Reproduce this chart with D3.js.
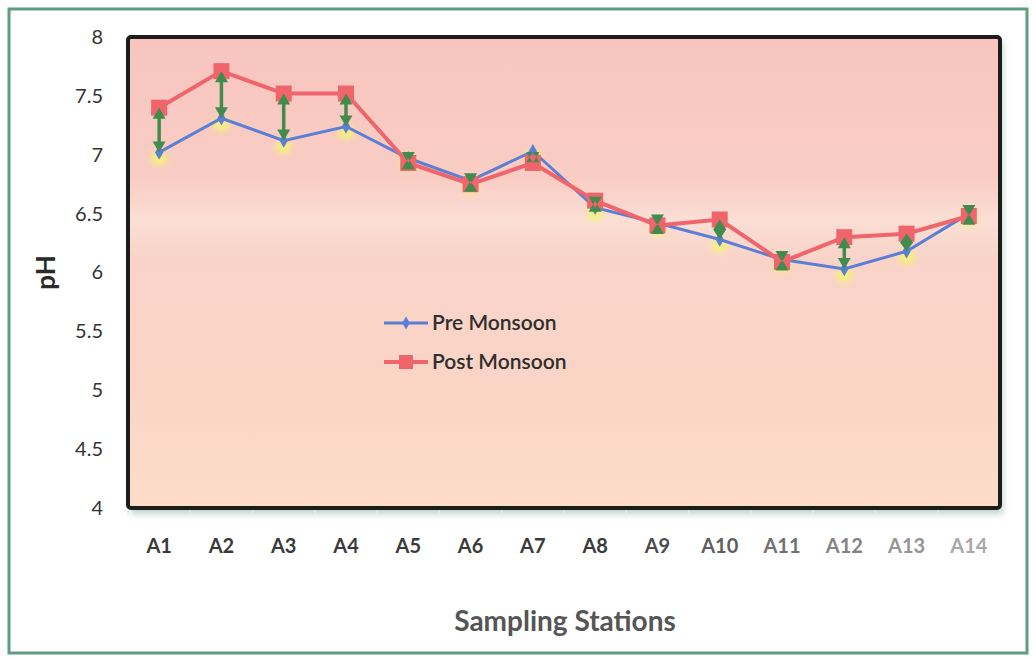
<!DOCTYPE html>
<html>
<head>
<meta charset="utf-8">
<script src="https://cdn.jsdelivr.net/npm/d3@7/dist/d3.min.js"></script>
<style>
  html, body { margin: 0; padding: 0; background: #fff; }
  svg { display: block; font-family: Lato, "Open Sans", sans-serif; }
</style>
</head>
<body>
<div id="chart"></div>
<script>
const stations = ["A1", "A2", "A3", "A4", "A5", "A6", "A7", "A8", "A9", "A10", "A11", "A12", "A13", "A14"];
const preMonsoon = [7.02, 7.31, 7.12, 7.24, 6.97, 6.78, 7.03, 6.55, 6.42, 6.28, 6.11, 6.03, 6.18, 6.50];
const postMonsoon = [7.40, 7.71, 7.52, 7.52, 6.93, 6.75, 6.93, 6.61, 6.40, 6.45, 6.09, 6.30, 6.33, 6.48];
const yTicks = [4, 4.5, 5, 5.5, 6, 6.5, 7, 7.5, 8];

const palette = {
  ink: "#333333",
  pre: "#5b7fd4",
  post: "#f0646c",
  arrow: "#3f8c4c",
  glow: "#f4f27a",
  frame: "#5e9e7c"
};

const width = 1036;
const height = 660;
const plot = { left: 128, right: 1000, top: 37, bottom: 508 };

const svg = d3.select("#chart").append("svg")
  .attr("width", width)
  .attr("height", height);

const defs = svg.append("defs");

const bg = defs.append("linearGradient")
  .attr("id", "plot-bg")
  .attr("x1", 0).attr("y1", 0).attr("x2", 0).attr("y2", 1);
[[0, "#f7c5bd"], [0.3, "#f9cdc4"], [0.39, "#fbded5"], [0.47, "#f9d3c8"], [0.75, "#fad5c6"], [1, "#fcdcc8"]]
  .forEach(([o, c]) => bg.append("stop").attr("offset", o).attr("stop-color", c));

defs.append("filter").attr("id", "blur")
  .attr("x", "-50%").attr("y", "-50%").attr("width", "200%").attr("height", "200%")
  .append("feGaussianBlur").attr("stdDeviation", 3);

defs.append("filter").attr("id", "shadow")
  .attr("x", "-5%").attr("y", "-5%").attr("width", "110%").attr("height", "110%")
  .append("feGaussianBlur").attr("stdDeviation", 3);

// outer frame
svg.append("rect")
  .attr("x", 9).attr("y", 9)
  .attr("width", width - 18).attr("height", height - 16)
  .attr("fill", "#fff")
  .attr("stroke", palette.frame)
  .attr("stroke-width", 3);

const x = d3.scaleBand()
  .domain(stations)
  .range([plot.left, plot.right]);

const y = d3.scaleLinear()
  .domain([4, 8])
  .range([plot.bottom, plot.top]);

// plot area shadow + fill
svg.append("rect")
  .attr("x", plot.left + 3).attr("y", plot.top + 4)
  .attr("width", plot.right - plot.left).attr("height", plot.bottom - plot.top + 2)
  .attr("fill", "#8fb8a8")
  .attr("opacity", 0.6)
  .attr("filter", "url(#shadow)");

svg.append("rect")
  .attr("x", plot.left).attr("y", plot.top)
  .attr("width", plot.right - plot.left).attr("height", plot.bottom - plot.top)
  .attr("rx", 3)
  .attr("fill", "url(#plot-bg)")
  .attr("stroke", "#1c1c1c")
  .attr("stroke-width", 4);

// y axis labels
const yAxis = svg.append("g")
  .attr("transform", `translate(${plot.left - 22},0)`)
  .call(d3.axisLeft(y).tickValues(yTicks).tickSize(0).tickFormat(d3.format("")));
yAxis.select(".domain").remove();
yAxis.selectAll("text")
  .attr("fill", palette.ink)
  .attr("font-size", 20)
  .attr("font-family", "Lato, 'Open Sans', sans-serif");

// x axis boundary ticks
svg.append("g")
  .selectAll("line")
  .data(stations.map((s) => x(s)).concat([plot.right]))
  .join("line")
  .attr("x1", (d) => d).attr("x2", (d) => d)
  .attr("y1", plot.bottom + 2).attr("y2", plot.bottom + 7)
  .attr("stroke", "#e8e8e8")
  .attr("stroke-width", 1.5);

const labelColor = d3.scaleLinear().domain([7, 13]).range(["#3a3a3a", "#a8a8a8"]).clamp(true);
const xAxis = svg.append("g")
  .attr("transform", `translate(0,${plot.bottom + 28})`)
  .call(d3.axisBottom(x).tickSize(0));
xAxis.select(".domain").remove();
xAxis.selectAll("text")
  .attr("fill", (d, i) => labelColor(i))
  .attr("font-size", 20)
  .attr("font-weight", 700)
  .attr("font-family", "Lato, 'Open Sans', sans-serif");

// axis titles
svg.append("text")
  .attr("transform", `translate(55,${(plot.top + plot.bottom) / 2}) rotate(-90)`)
  .attr("text-anchor", "middle")
  .attr("fill", "#2a2a2a")
  .attr("font-size", 26)
  .attr("font-weight", 700)
  .text("pH");

svg.append("text")
  .attr("x", 565)
  .attr("y", 631)
  .attr("text-anchor", "middle")
  .attr("fill", "#555")
  .attr("font-size", 28)
  .attr("font-weight", 700)
  .text("Sampling Stations");

const cx = (i) => x(stations[i]) + x.bandwidth() / 2;

// yellow glow beneath pre points
svg.append("g")
  .selectAll("ellipse")
  .data(preMonsoon)
  .join("ellipse")
  .attr("cx", (d, i) => cx(i))
  .attr("cy", (d) => y(d) + 6)
  .attr("rx", 8)
  .attr("ry", 7)
  .attr("fill", palette.glow)
  .attr("filter", "url(#blur)");

const line = d3.line()
  .x((d, i) => cx(i))
  .y((d) => y(d));

svg.append("path")
  .datum(preMonsoon)
  .attr("d", line)
  .attr("fill", "none")
  .attr("stroke", palette.pre)
  .attr("stroke-width", 3);

svg.append("path")
  .datum(postMonsoon)
  .attr("d", line)
  .attr("fill", "none")
  .attr("stroke", palette.post)
  .attr("stroke-width", 4);

svg.append("g")
  .selectAll("path")
  .data(preMonsoon)
  .join("path")
  .attr("transform", (d, i) => `translate(${cx(i)},${y(d)})`)
  .attr("d", d3.symbol(d3.symbolDiamond, 60))
  .attr("fill", palette.pre);

svg.append("g")
  .selectAll("rect")
  .data(postMonsoon)
  .join("rect")
  .attr("x", (d, i) => cx(i) - 8)
  .attr("y", (d) => y(d) - 8)
  .attr("width", 16)
  .attr("height", 16)
  .attr("fill", palette.post);

// double-headed change arrows
function arrowPath(i) {
  const a = y(preMonsoon[i]);
  const b = y(postMonsoon[i]);
  const top = Math.min(a, b);
  const bot = Math.max(a, b);
  const x0 = cx(i);
  const h = bot - top > 14 ? Math.min(11, (bot - top) / 2) : 11;
  const w = 6.5;
  return `M${x0 - w},${top + h}L${x0},${top}L${x0 + w},${top + h}Z` +
    `M${x0 - w},${bot - h}L${x0},${bot}L${x0 + w},${bot - h}Z`;
}

const arrows = svg.append("g");
stations.forEach((s, i) => {
  const a = y(preMonsoon[i]);
  const b = y(postMonsoon[i]);
  arrows.append("line")
    .attr("x1", cx(i)).attr("x2", cx(i))
    .attr("y1", a).attr("y2", b)
    .attr("stroke", palette.glow)
    .attr("stroke-width", 9)
    .attr("opacity", 0.7)
    .attr("filter", "url(#blur)");
  if (Math.abs(a - b) > 20) {
    arrows.append("line")
      .attr("x1", cx(i)).attr("x2", cx(i))
      .attr("y1", Math.min(a, b) + 8).attr("y2", Math.max(a, b) - 8)
      .attr("stroke", palette.arrow)
      .attr("stroke-width", 3.5);
  }
  arrows.append("path")
    .attr("d", arrowPath(i))
    .attr("fill", palette.arrow);
});

// legend
const legend = svg.append("g").attr("transform", "translate(384,323)");
[["Pre Monsoon", palette.pre, "diamond"], ["Post Monsoon", palette.post, "square"]].forEach(([label, color, kind], k) => {
  const g = legend.append("g").attr("transform", `translate(0,${k * 39})`);
  g.append("line")
    .attr("x1", 0).attr("x2", 44)
    .attr("stroke", color)
    .attr("stroke-width", kind === "square" ? 4 : 3);
  if (kind === "square") {
    g.append("rect").attr("x", 15).attr("y", -7).attr("width", 14).attr("height", 14).attr("fill", color);
  } else {
    g.append("path").attr("transform", "translate(22,0)").attr("d", d3.symbol(d3.symbolDiamond, 50)).attr("fill", color);
  }
  g.append("text")
    .attr("x", 48)
    .attr("y", 7)
    .attr("fill", "#2e2e2e")
    .attr("font-size", 21)
    .attr("font-weight", 600)
    .text(label);
});
</script>
</body>
</html>
